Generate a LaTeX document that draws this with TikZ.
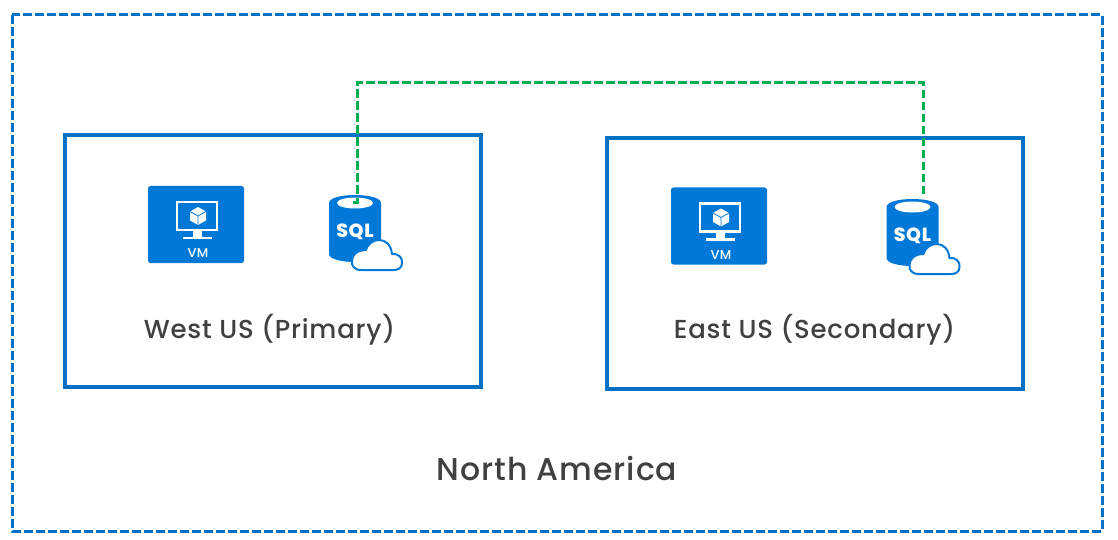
\documentclass[tikz,border=0pt]{standalone}
\usepackage{fontspec}
\setmainfont{Poppins Medium}[LetterSpace=3]
\definecolor{azure}{HTML}{0072C6}
\definecolor{iconblue}{HTML}{0078D7}
\definecolor{linkgreen}{HTML}{00B050}
\definecolor{txt}{HTML}{404040}
\tikzset{
 x=1pt,y=-1pt,
 region/.style={draw=azure,line width=3pt,dash pattern=on 9pt off 3pt},
 zone/.style={draw=azure,line width=3.3pt,line join=miter},
 link/.style={draw=linkgreen,line width=3pt,dash pattern=on 8.5pt off 3.5pt},
 label/.style={text=txt,inner sep=0pt,font=\fontsize{26}{30}\selectfont},
 biglabel/.style={text=txt,inner sep=0pt,font=\fontsize{31.5}{36}\selectfont},
 vmicon/.pic={
  \fill[iconblue,rounded corners=2.5pt] (0,0) rectangle (96,77);
  \draw[white,line width=2.5pt] (29,16) rectangle (69,44);
  \fill[white] (45,45) rectangle (54,51);
  \fill[white] (35,50.5) rectangle (64,53);
  \fill[white] (50,21) -- (58,25.5) -- (58,34.5) -- (50,39) -- (42,34.5) -- (42,25.5) -- cycle;
  \draw[iconblue,line width=.8pt] (42,25.5) -- (50,30) -- (58,25.5) (50,30) -- (50,39);
  \node[white,inner sep=0pt,font=\fontsize{13}{14}\selectfont] (-label) at (50,67) {VM};
 },
 sqlicon/.pic={
  \fill[iconblue] (0,8) .. controls (0,3) and (12,0) .. (26,0) .. controls (40,0) and (52,3) .. (52,8)
    -- (52,59) .. controls (52,64) and (40,67) .. (26,67) .. controls (12,67) and (0,64) .. (0,59) -- cycle;
  \fill[white] (26,8) ellipse [x radius=18,y radius=5.5];
  \node[white,inner sep=0pt,font=\fontsize{19}{22}\selectfont\bfseries] (-label) at (26,36.5) {SQL};
  \draw[fill=white,draw=iconblue,line width=2pt,line join=round]
    (32,75) .. controls (25,75) and (22,70) .. (23,66)
    .. controls (23,60) and (28,55) .. (37,55)
    .. controls (39,48) and (45,45) .. (50,45)
    .. controls (57,45) and (62,50) .. (63,59)
    .. controls (69,58) and (74,63) .. (73,68)
    .. controls (73,73) and (69,75) .. (65,75) -- cycle;
 },
}
\begin{document}
\begin{tikzpicture}
\useasboundingbox (0,0) rectangle (1118,540);
\path[region] (12,15) rectangle (1102,531);
\path[zone] (65,135) rectangle (481,387);
\path[zone] (607,138) rectangle (1023,389);
\pic (vma) at (148,186) {vmicon};
\pic (vmb) at (671,187.5) {vmicon};
\pic (sqla) at (329,195) {sqlicon};
\pic (sqlb) at (886.5,199) {sqlicon};
\node[label] (west) at (269.5,330) {West US (Primary)};
\node[label] (east) at (814.5,330) {East US (Secondary)};
\node[biglabel] (na) at (557,469) {North America};
\coordinate (porta) at (353,202);
\coordinate (portb) at (923,198);
\coordinate (bend) at (640,83);
\path[link] (porta) -- (357,202) |- (bend) -| (portb);
\end{tikzpicture}
\end{document}
